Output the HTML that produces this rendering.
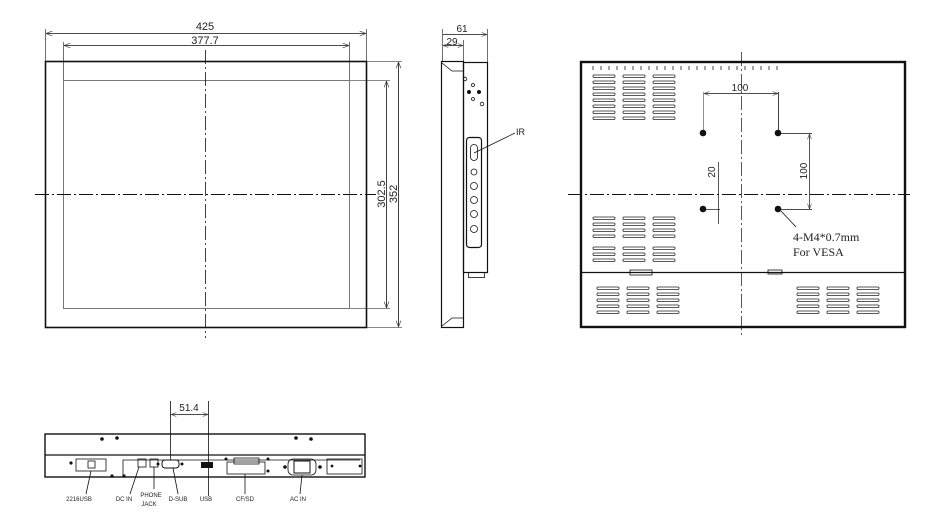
<!DOCTYPE html>
<html><head><meta charset="utf-8"><style>
html,body{margin:0;padding:0;background:#fff;}
svg{display:block;}
text{font-family:"Liberation Sans",sans-serif;fill:#222;}
</style></head><body>
<svg width="930" height="529" viewBox="0 0 930 529" xmlns="http://www.w3.org/2000/svg">
<defs>
<marker id="a" markerWidth="8" markerHeight="6" refX="8" refY="3" orient="auto"><path d="M0,0 L8,3 L0,6" fill="none" stroke="#333" stroke-width="0.8"/></marker>
<marker id="b" markerWidth="8" markerHeight="6" refX="0" refY="3" orient="auto"><path d="M8,0 L0,3 L8,6" fill="none" stroke="#333" stroke-width="0.8"/></marker>
</defs>
<g fill="none" stroke="#111">
<!-- FRONT VIEW -->
<rect x="45.5" y="61.5" width="321" height="266" stroke-width="1.6"/>
<rect x="63.5" y="80.5" width="286" height="228" stroke="#777" stroke-width="1"/>
<line x1="205.5" y1="50" x2="205.5" y2="338" stroke-width="0.8" stroke-dasharray="14,3,2,3"/>
<line x1="35" y1="194.5" x2="376" y2="194.5" stroke-width="1" stroke-dasharray="14,3,2,3"/>
<line x1="45.5" y1="29" x2="45.5" y2="61" stroke-width="0.6"/>
<line x1="366.5" y1="29" x2="366.5" y2="61" stroke-width="0.6"/>
<line x1="46" y1="33.5" x2="366" y2="33.5" stroke-width="0.8" marker-start="url(#b)" marker-end="url(#a)"/>
<line x1="63.5" y1="42" x2="63.5" y2="80" stroke-width="0.6"/>
<line x1="349.5" y1="42" x2="349.5" y2="80" stroke-width="0.6"/>
<line x1="64" y1="45.5" x2="349" y2="45.5" stroke-width="0.8" marker-start="url(#b)" marker-end="url(#a)"/>
<line x1="350" y1="80.5" x2="390" y2="80.5" stroke-width="0.6"/>
<line x1="350" y1="308.5" x2="390" y2="308.5" stroke-width="0.6"/>
<line x1="386.5" y1="81" x2="386.5" y2="308" stroke-width="0.8" marker-start="url(#b)" marker-end="url(#a)"/>
<line x1="367" y1="61.5" x2="402" y2="61.5" stroke-width="0.6"/>
<line x1="367" y1="327.5" x2="402" y2="327.5" stroke-width="0.6"/>
<line x1="398.5" y1="62" x2="398.5" y2="327" stroke-width="0.8" marker-start="url(#b)" marker-end="url(#a)"/>

<!-- SIDE VIEW -->
<rect x="441.5" y="61.5" width="22" height="266" stroke-width="1.2"/>
<path d="M442,63 L452,71 L463,71 M442,326 L452,318 L463,318" stroke-width="0.8"/>
<rect x="463.5" y="62.5" width="24" height="210" stroke-width="1.2"/>
<rect x="468.5" y="272.5" width="16" height="5" stroke-width="0.8"/>
<rect x="466.5" y="137.5" width="15" height="110" rx="3" stroke-width="1.2"/>
<rect x="470.5" y="144.5" width="7" height="16" rx="3.5" stroke-width="0.8"/>
<circle cx="474" cy="172" r="3" stroke-width="0.8"/>
<circle cx="474" cy="186" r="3.5" stroke-width="0.8"/>
<circle cx="474" cy="200" r="3.5" stroke-width="0.8"/>
<circle cx="474" cy="214" r="3.5" stroke-width="0.8"/>
<circle cx="474" cy="229" r="3.5" stroke-width="0.8"/>
<circle cx="465" cy="79" r="1.8" stroke-width="0.8"/>
<circle cx="473" cy="85" r="1.5" stroke-width="0.8"/>
<circle cx="469" cy="92" r="1.5" fill="#111"/>
<circle cx="479" cy="92" r="1.5" fill="#111"/>
<circle cx="473" cy="99" r="1.5" stroke-width="0.8"/>
<circle cx="482" cy="104" r="1.8" stroke-width="0.8"/>
<line x1="474" y1="153" x2="515" y2="133" stroke-width="0.7"/>
<line x1="442.5" y1="29" x2="442.5" y2="61" stroke-width="0.6"/>
<line x1="487.5" y1="29" x2="487.5" y2="62" stroke-width="0.6"/>
<line x1="463.5" y1="40" x2="463.5" y2="61" stroke-width="0.6"/>
<line x1="443" y1="34.5" x2="487" y2="34.5" stroke-width="0.7" marker-end="url(#a)"/>
<line x1="443" y1="45.5" x2="463" y2="45.5" stroke-width="0.7" marker-start="url(#b)" marker-end="url(#a)"/>

<!-- REAR VIEW -->
<rect x="581" y="62" width="324" height="265" stroke-width="2.4"/>
<line x1="581" y1="272.5" x2="905" y2="272.5" stroke-width="1.2"/>
<line x1="741.5" y1="52" x2="741.5" y2="336" stroke-width="0.7" stroke-dasharray="14,3,2,3"/>
<line x1="568" y1="194.5" x2="910" y2="194.5" stroke-width="1" stroke-dasharray="14,3,2,3"/>
<line x1="703.5" y1="92" x2="703.5" y2="131" stroke="#777" stroke-width="0.8"/>
<line x1="778.5" y1="92" x2="778.5" y2="131" stroke-width="0.8"/>
<line x1="704" y1="93.5" x2="778" y2="93.5" stroke-width="0.7" marker-start="url(#b)" marker-end="url(#a)"/>
<line x1="781" y1="133.5" x2="812" y2="133.5" stroke-width="0.7"/>
<line x1="781" y1="209.5" x2="812" y2="209.5" stroke-width="0.7"/>
<line x1="809.5" y1="134" x2="809.5" y2="209" stroke-width="0.7" marker-start="url(#b)" marker-end="url(#a)"/>
<line x1="706" y1="209.5" x2="720" y2="209.5" stroke-width="0.7"/>
<line x1="718.5" y1="162" x2="718.5" y2="224" stroke-width="0.7"/>
<line x1="781" y1="211" x2="796" y2="227" stroke-width="0.8"/>
<rect x="630" y="270" width="22" height="5" stroke-width="0.8"/>
<rect x="768" y="270" width="14" height="4" stroke-width="0.8"/>
</g>
<g fill="#111">
<circle cx="703" cy="133" r="3.3"/><circle cx="778" cy="133" r="3.3"/>
<circle cx="703" cy="209" r="3.3"/><circle cx="778" cy="209" r="3.3"/>
</g>
<g fill="none" stroke="#222" stroke-width="0.8">
<!-- top ticks -->
<path d="M593,66v4M601,66v4M609,66v4M617,66v4M625,66v4M633,66v4M641,66v4M649,66v4M657,66v4M665,66v4M673,66v4M681,66v4M689,66v4M697,66v4M705,66v4M713,66v4M721,66v4M729,66v4M737,66v4M745,66v4M753,66v4M761,66v4M769,66v4M777,66v4"/>
<!-- vents upper left -->
<g id="v1">
<rect x="593" y="75" width="22" height="2.5" rx="1"/><rect x="593" y="81" width="22" height="2.5" rx="1"/><rect x="593" y="87" width="22" height="2.5" rx="1"/><rect x="593" y="93" width="22" height="2.5" rx="1"/><rect x="593" y="99" width="22" height="2.5" rx="1"/><rect x="593" y="105" width="22" height="2.5" rx="1"/><rect x="593" y="111" width="22" height="2.5" rx="1"/><rect x="593" y="117" width="22" height="2.5" rx="1"/>
</g>
<use href="#v1" x="30"/><use href="#v1" x="60"/>
<g id="v2">
<rect x="593" y="217" width="22" height="2.5" rx="1"/><rect x="593" y="223" width="22" height="2.5" rx="1"/><rect x="593" y="229" width="22" height="2.5" rx="1"/><rect x="593" y="235" width="22" height="2.5" rx="1"/><rect x="593" y="247" width="22" height="2.5" rx="1"/><rect x="593" y="253" width="22" height="2.5" rx="1"/><rect x="593" y="259" width="22" height="2.5" rx="1"/>
</g>
<use href="#v2" x="30"/><use href="#v2" x="60"/>
<g id="v3">
<rect x="597" y="287" width="22" height="2.5" rx="1"/><rect x="597" y="293" width="22" height="2.5" rx="1"/><rect x="597" y="299" width="22" height="2.5" rx="1"/><rect x="597" y="305" width="22" height="2.5" rx="1"/><rect x="597" y="311" width="22" height="2.5" rx="1"/>
</g>
<use href="#v3" x="30"/><use href="#v3" x="60"/><use href="#v3" x="200"/><use href="#v3" x="230"/><use href="#v3" x="260"/>
</g>

<!-- BOTTOM VIEW -->
<g fill="none" stroke="#111">
<rect x="45" y="434" width="320" height="43" stroke-width="1.4"/>
<line x1="45" y1="455" x2="365" y2="455" stroke-width="1.2"/>
<rect x="76" y="459" width="30" height="12" stroke-width="0.8"/>
<rect x="88" y="461" width="7" height="7" stroke-width="0.8"/>
<path d="M123,477 V460 H360" stroke-width="0.8"/>
<rect x="138" y="459" width="8" height="8" stroke-width="0.8"/>
<rect x="150" y="459" width="8" height="8" stroke-width="0.8"/>
<rect x="162" y="460" width="17" height="8" rx="3" stroke-width="1"/>
<rect x="227" y="462" width="38" height="12" stroke-width="0.8"/>
<rect x="234" y="458" width="25" height="6" stroke-width="0.8"/>
<rect x="288" y="459" width="28" height="16" rx="5" stroke-width="0.8"/>
<rect x="294" y="461" width="16" height="12" stroke-width="1"/>
<rect x="327" y="459" width="35" height="15" stroke-width="0.8"/>
<line x1="170.5" y1="401" x2="170.5" y2="460" stroke-width="0.8"/>
<line x1="208.5" y1="401" x2="208.5" y2="496" stroke-width="0.8"/>
<line x1="171" y1="414.5" x2="208" y2="414.5" stroke-width="0.7" marker-start="url(#b)" marker-end="url(#a)"/>
<path d="M91,471 L86,494 M139,467 L130,494 M154,467 L154,489 M173,468 L178,494 M245,474 L245,494 M302,475 L300,494" stroke-width="0.8"/>
</g>
<g fill="#111">
<circle cx="102" cy="439" r="1.8"/><circle cx="117" cy="438" r="1.8"/><circle cx="296" cy="438" r="1.8"/><circle cx="311" cy="439" r="1.8"/>
<circle cx="71" cy="463" r="1.6"/><circle cx="112" cy="476" r="1.6"/><circle cx="124" cy="476" r="1.6"/>
<rect x="201" y="462" width="12" height="6"/>
<circle cx="158" cy="464" r="1.5"/><circle cx="182" cy="464" r="1.5"/>
<circle cx="285" cy="467" r="1.8"/><circle cx="320" cy="467" r="1.8"/>
<circle cx="226" cy="459" r="1.5"/><circle cx="268" cy="459" r="1.5"/><circle cx="268" cy="471" r="1.5"/>
<circle cx="332" cy="466" r="1.4"/><circle cx="360" cy="466" r="1.4"/>
</g>

<!-- TEXT -->
<text x="205" y="30" font-size="11" text-anchor="middle">425</text>
<text x="205" y="44" font-size="11" text-anchor="middle">377.7</text>
<text transform="translate(385,194) rotate(-90)" font-size="11" text-anchor="middle">302.5</text>
<text transform="translate(397,194) rotate(-90)" font-size="11" text-anchor="middle">352</text>
<text x="462" y="32" font-size="10" text-anchor="middle">61</text>
<text x="452" y="45" font-size="10" text-anchor="middle">29</text>
<text x="516" y="135" font-size="9" font-family="Liberation Serif">IR</text>
<text x="740" y="91" font-size="10" text-anchor="middle">100</text>
<text transform="translate(807,171) rotate(-90)" font-size="10" text-anchor="middle">100</text>
<text transform="translate(715,172) rotate(-90)" font-size="10" text-anchor="middle">20</text>
<text x="793" y="241" font-size="12" style="font-family:'Liberation Serif',serif">4-M4*0.7mm</text>
<text x="793" y="256" font-size="12" style="font-family:'Liberation Serif',serif">For VESA</text>
<text x="189" y="411" font-size="10" text-anchor="middle">51.4</text>
<g font-size="6" text-anchor="middle">
<text x="79" y="501">2216USB</text>
<text x="124" y="501">DC IN</text>
<text x="151" y="497">PHONE</text>
<text x="149" y="506">JACK</text>
<text x="178" y="501">D-SUB</text>
<text x="206" y="501">USB</text>
<text x="245" y="501">CF/SD</text>
<text x="298" y="501">AC IN</text>
</g>
</svg>
</body></html>
